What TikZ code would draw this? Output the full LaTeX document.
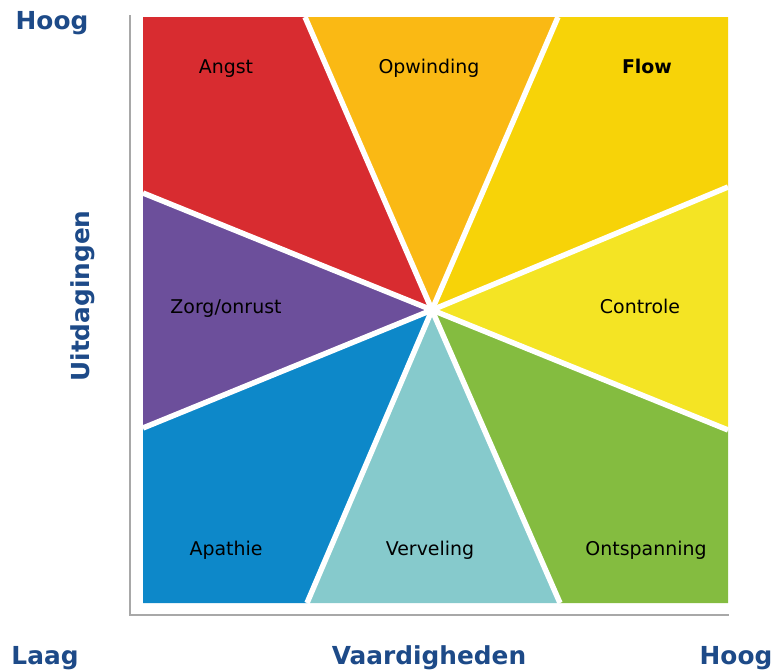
\documentclass[tikz,border=0pt]{standalone}
\usepackage{fontspec}
\setmainfont{DejaVu Sans}
\definecolor{cAngst}{HTML}{D82C30}
\definecolor{cOpw}{HTML}{FAB914}
\definecolor{cFlow}{HTML}{F7D308}
\definecolor{cContr}{HTML}{F4E424}
\definecolor{cOnts}{HTML}{84BC40}
\definecolor{cVerv}{HTML}{86CACC}
\definecolor{cApa}{HTML}{0D88C9}
\definecolor{cZorg}{HTML}{6C4F9B}
\definecolor{axisblue}{HTML}{1D4A88}
\definecolor{axisgray}{HTML}{A8A8A8}
\begin{document}
\begin{tikzpicture}[x=0.75pt,y=-0.75pt,
  state/.style={font=\fontsize{14.2pt}{16pt}\selectfont, text=black, anchor=base, inner sep=0pt},
  axislabel/.style={font=\fontsize{18.6pt}{21pt}\selectfont\bfseries, text=axisblue, anchor=base, inner sep=0pt},
  divider/.style={white, line width=4.1pt},
  axisline/.style={axisgray, line width=1.2pt}]
\useasboundingbox (0,0) rectangle (775,671);
% centre and boundary points of the sectors
\coordinate (C) at (432,310);
\coordinate (TL) at (143,17);
\coordinate (TR) at (728,17);
\coordinate (BR) at (728,603);
\coordinate (BL) at (143,603);
\coordinate (P1) at (305,17);
\coordinate (P2) at (558,17);
\coordinate (P3) at (728,187);
\coordinate (P4) at (728,430);
\coordinate (P5) at (560,603);
\coordinate (P6) at (307,603);
\coordinate (P7) at (143,428);
\coordinate (P8) at (143,193);
% sectors
\fill[cAngst]  (C) -- (P8) -- (TL) -- (P1) -- cycle;
\fill[cOpw]    (C) -- (P1) -- (P2) -- cycle;
\fill[cFlow]   (C) -- (P2) -- (TR) -- (P3) -- cycle;
\fill[cContr]  (C) -- (P3) -- (P4) -- cycle;
\fill[cOnts]   (C) -- (P4) -- (BR) -- (P5) -- cycle;
\fill[cVerv]   (C) -- (P5) -- (P6) -- cycle;
\fill[cApa]    (C) -- (P6) -- (BL) -- (P7) -- cycle;
\fill[cZorg]   (C) -- (P7) -- (P8) -- cycle;
% white dividers
\foreach \p in {P1,P2,P3,P4,P5,P6,P7,P8}
  \draw[divider] (C) -- (\p);
% axes
\coordinate (O) at (130,615);
\coordinate (Ytop) at (130,15);
\coordinate (Xend) at (729,615);
\draw[axisline] (Ytop) -- (O) -- (Xend);
% state labels
\node[state] (angst) at (226,73) {Angst};
\node[state] (opw) at (429,73) {Opwinding};
\node[state,font=\fontsize{14.2pt}{16pt}\selectfont\bfseries] (flow) at (647,73) {Flow};
\node[state] (zorg) at (226,313) {Zorg/onrust};
\node[state] (contr) at (640,313) {Controle};
\node[state] (apa) at (226,555) {Apathie};
\node[state] (verv) at (430,555) {Verveling};
\node[state] (onts) at (646,555) {Ontspanning};
% axis labels
\node[axislabel] (hoogy) at (52,29) {Hoog};
\node[axislabel] (laag) at (45,664) {Laag};
\node[axislabel] (vaard) at (429,664) {Vaardigheden};
\node[axislabel] (hoogx) at (736,664) {Hoog};
\node[axislabel, anchor=center, rotate=90] (uitd) at (83,296) {Uitdagingen};
\end{tikzpicture}
\end{document}
